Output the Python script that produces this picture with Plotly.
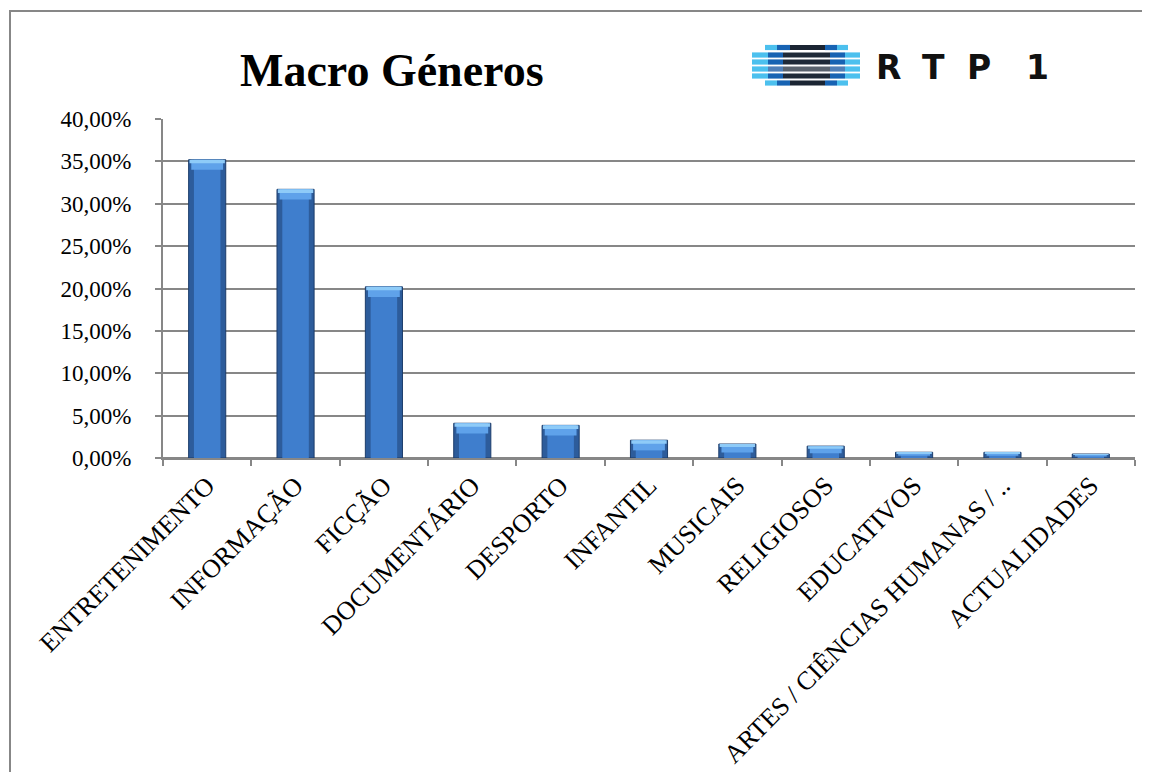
import plotly.graph_objects as go

# ---- data ----
categories = [
    "ENTRETENIMENTO", "INFORMAÇÃO", "FICÇÃO", "DOCUMENTÁRIO", "DESPORTO",
    "INFANTIL", "MUSICAIS", "RELIGIOSOS", "EDUCATIVOS",
    "ARTES / CIÊNCIAS HUMANAS / ..", "ACTUALIDADES",
]
values = [35.2, 31.7, 20.2, 4.1, 3.85, 2.1, 1.65, 1.4, 0.68, 0.67, 0.47]
title_text = "Macro Géneros"
logo_letters = ["R", "T", "P", "1"]

# ---- geometry (page pixels) ----
OFF = 8                      # default body margin of the html page
W, H = 1150 - 2 * OFF, 780 - 2 * OFF
L, R, T, B = 163, 1135, 119, 458   # plot area in page pixels


def px(x):
    return (x - L) / (R - L)


def py(y):
    return (B - y) / (B - T)


GRAY = "#878787"
bevel = [min(1.2, v * 0.6) for v in values]

fig = go.Figure()
# main body
fig.add_trace(go.Bar(x=categories, y=values, width=0.42,
                     marker=dict(color="#2d5c9b", line=dict(color="#1d3d6b", width=1)),
                     hoverinfo="skip"))
# lighter inner body
fig.add_trace(go.Bar(x=categories, y=values, width=0.30,
                     marker=dict(color="#3f7ecd", line=dict(width=0)),
                     hoverinfo="skip"))
# top bevel
fig.add_trace(go.Bar(x=categories, y=bevel, base=[v - b for v, b in zip(values, bevel)],
                     width=0.36, marker=dict(color="#5fa2ea", line=dict(width=0)),
                     hoverinfo="skip"))
# top highlight
fig.add_trace(go.Bar(x=categories, y=[b * 0.35 for b in bevel],
                     base=[v - b * 0.35 for v, b in zip(values, bevel)],
                     width=0.40, marker=dict(color="#8ecbf8", line=dict(width=0)),
                     hoverinfo="skip"))

shapes = []
# outer frame
shapes.append(dict(type="rect", xref="paper", yref="paper",
                   x0=px(10), x1=px(1170), y0=py(800), y1=py(11),
                   line=dict(color=GRAY, width=2), fillcolor="rgba(0,0,0,0)", layer="below"))

# RTP logo stripes
stripe_rows = [(47.5, True), (55, False), (62, False), (69, False), (76, False), (83, True)]
for yc, short in stripe_rows:
    if short:
        segs = [(765, 777, "#4cc0ee"), (777, 790, "#1763b3"), (790, 825, "#1b2533"),
                (825, 837, "#1763b3"), (837, 848, "#4cc0ee")]
    else:
        segs = [(752, 768, "#4cc0ee"), (768, 783, "#1763b3"), (783, 830, "#1f2a38"),
                (830, 845, "#1763b3"), (845, 860, "#4cc0ee")]
    for x0, x1, c in segs:
        if not short and yc == 69:
            c = {"#1f2a38": "#5a636e", "#1763b3": "#4f7fb8"}.get(c, c)
        shapes.append(dict(type="rect", xref="paper", yref="paper",
                           x0=px(x0), x1=px(x1), y0=py(yc + 2.6), y1=py(yc - 2.6),
                           line=dict(width=0), fillcolor=c))

annotations = [dict(text=f"<b>{title_text}</b>", xref="paper", yref="paper",
                    x=px(392), y=py(70), xanchor="center", yanchor="middle",
                    showarrow=False,
                    font=dict(family="Liberation Serif", size=46, color="black"))]
for letter, xc in zip(logo_letters, [888, 933, 979, 1037]):
    annotations.append(dict(text=f"<b>{letter}</b>", xref="paper", yref="paper",
                            x=px(xc), y=py(68), xanchor="center", yanchor="middle",
                            showarrow=False,
                            font=dict(family="DejaVu Sans", size=33, color="#111111")))

fig.update_layout(
    width=W, height=H,
    margin=dict(l=L - OFF, r=W - (R - OFF), t=T - OFF, b=H - (B - OFF), pad=0,
                autoexpand=False),
    paper_bgcolor="white", plot_bgcolor="white",
    barmode="overlay", showlegend=False,
    separators=", ",
    shapes=shapes, annotations=annotations,
    font=dict(family="Liberation Serif", color="black"),
)
fig.update_xaxes(
    type="category", showgrid=False, showline=True, linecolor=GRAY, linewidth=2,
    ticks="outside", tickson="boundaries", ticklen=6, tickwidth=2, tickcolor=GRAY,
    tickangle=-45, tickfont=dict(family="Liberation Serif", size=26, color="black"),
    range=[-0.5, len(categories) - 0.5], fixedrange=True, automargin=False,
)
fig.update_yaxes(
    range=[0, 40], dtick=5, tickformat=".2f", ticksuffix="%",
    showgrid=True, gridcolor=GRAY, gridwidth=2,
    showline=True, linecolor=GRAY, linewidth=2,
    zeroline=True, zerolinecolor=GRAY, zerolinewidth=2,
    ticks="outside", ticklen=6, tickwidth=2, tickcolor=GRAY,
    ticklabelstandoff=19,
    tickfont=dict(family="Liberation Serif", size=23, color="black"),
    fixedrange=True, automargin=False,
)

fig.write_html("out.html")
